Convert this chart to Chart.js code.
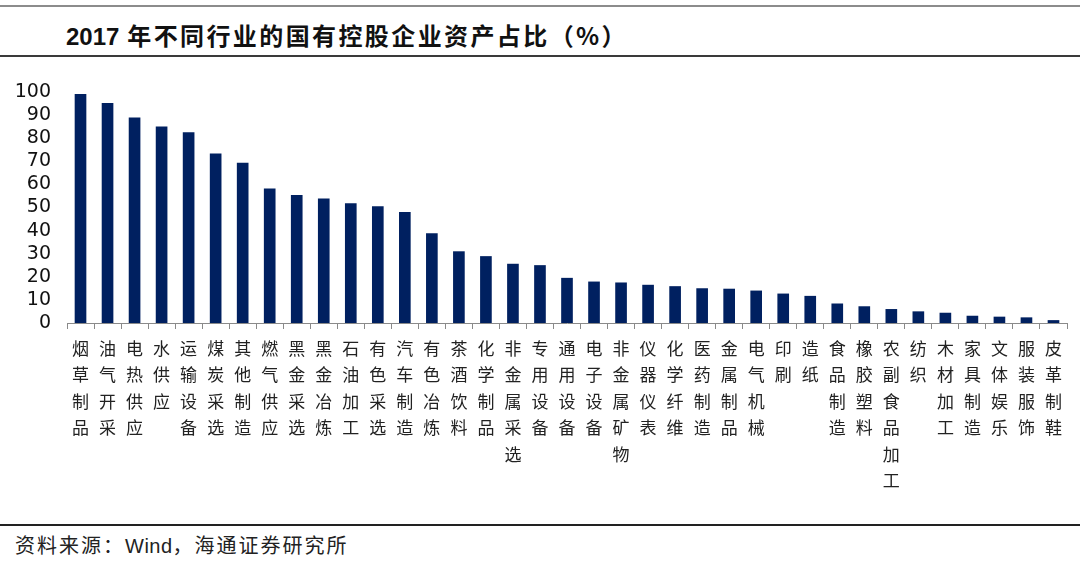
<!DOCTYPE html>
<html>
<head>
<meta charset="utf-8">
<script src="https://cdn.jsdelivr.net/npm/chart.js@4"></script>
<style>
  body { margin: 0; background: #fff; }
  #wrap { position: relative; width: 1080px; height: 565px; overflow: hidden; }
  #topline { position: absolute; left: 0; top: 5px; width: 1080px; height: 2px; background: #8c8c8c; }
  #title { position: absolute; left: 66px; top: 17px; font-size: 24px; color: #111;
           font-family: "Noto Sans CJK SC", sans-serif; font-weight: 700; letter-spacing: 2.4px; white-space: nowrap; }
  #title .num { font-family: "Liberation Sans", Arial, sans-serif; font-weight: 700; letter-spacing: 0; }
  #titleline { position: absolute; left: 0; top: 55px; width: 1080px; height: 2px; background: #3a3a3a; }
  #bottomline { position: absolute; left: 0; top: 524px; width: 1080px; height: 2px; background: #222; }
  #source { position: absolute; left: 15px; top: 530px; font-size: 20px; color: #222;
            font-family: "Noto Sans CJK SC", sans-serif; letter-spacing: 2px; white-space: nowrap; }
  #source .lat { font-family: "Liberation Sans", Arial, sans-serif; letter-spacing: 0.5px; }
  canvas { position: absolute; left: 0; top: 0; }
</style>
</head>
<body>
<div id="wrap">
  <div id="topline"></div>
  <div id="title"><span class="num">2017</span> 年不同行业的国有控股企业资产占比（%）</div>
  <div id="titleline"></div>
  <canvas id="maincanvas" width="1080" height="520"></canvas>
  <div id="bottomline"></div>
  <div id="source">资料来源：<span class="lat">Wind</span>，海通证券研究所</div>
</div>
<script>
// industries, left to right
var categories = [
  "烟草制品", "油气开采", "电热供应", "水供应", "运输设备", "煤炭采选", "其他制造",
  "燃气供应", "黑金采选", "黑金冶炼", "石油加工", "有色采选", "汽车制造", "有色冶炼",
  "茶酒饮料", "化学制品", "非金属采选", "专用设备", "通用设备", "电子设备", "非金属矿物",
  "仪器仪表", "化学纤维", "医药制造", "金属制品", "电气机械", "印刷", "造纸",
  "食品制造", "橡胶塑料", "农副食品加工", "纺织", "木材加工", "家具制造", "文体娱乐",
  "服装服饰", "皮革制鞋"
];
// share of state-controlled assets, %
var shares = [
  99.0, 95.1, 88.8, 84.9, 82.4, 73.2, 69.2,
  58.1, 55.3, 53.7, 51.7, 50.4, 47.9, 38.7,
  30.9, 28.8, 25.5, 24.9, 19.4, 17.8, 17.4,
  16.4, 15.8, 14.9, 14.7, 13.9, 12.6, 11.6,
  8.3, 7.1, 5.9, 4.9, 4.3, 3.0, 2.6,
  2.3, 1.1
];
var yTicks = [0, 10, 20, 30, 40, 50, 60, 70, 80, 90, 100];

var ctx = document.getElementById("maincanvas").getContext("2d");
var chart = new Chart(ctx, {
  type: "bar",
  data: {
    labels: categories.map(function (c) { return c.split(""); }),
    datasets: [{
      label: "国有控股企业资产占比",
      data: shares,
      backgroundColor: "#002060",
      barThickness: 11
    }]
  },
  options: {
    responsive: false,
    animation: false,
    layout: { padding: { top: 92, right: 13, left: 0, bottom: 0 } },
    plugins: { legend: { display: false }, tooltip: { enabled: false } },
    scales: {
      x: {
        grid: { display: true, offset: true, drawOnChartArea: false, drawTicks: true,
                tickLength: 6, color: "#8a8a8a" },
        border: { display: true, color: "#8a8a8a", width: 1 },
        ticks: {
          autoSkip: false, maxRotation: 0, minRotation: 0, padding: 6,
          color: "#222",
          font: { family: "Noto Sans CJK SC", size: 17, lineHeight: 1.56 }
        },
        afterFit: function (scale) { scale.height = 197; }
      },
      y: {
        min: 0, max: 100,
        grid: { display: false },
        border: { display: false },
        afterBuildTicks: function (scale) {
          scale.ticks = yTicks.map(function (v) { return { value: v }; });
        },
        ticks: {
          autoSkip: false, padding: 8, color: "#111",
          font: { family: "DejaVu Sans", size: 19 }
        },
        afterFit: function (scale) { scale.width = 67; }
      }
    }
  }
});
</script>
</body>
</html>
